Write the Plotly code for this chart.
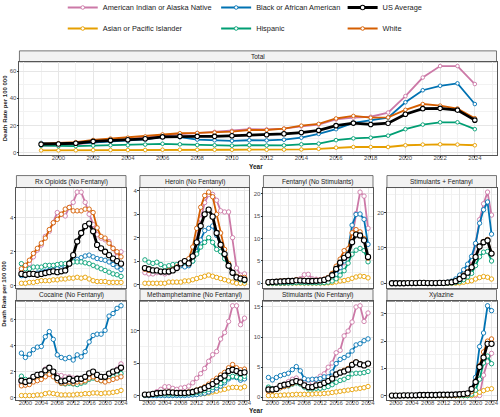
import plotly.graph_objects as go

# ── Data (age-adjusted death rate per 100 000) ───────────────────────────────
years = list(range(1999, 2025))

total_aian = [5.0, 5.2, 6.0, 7.5, 8.5, 9.8, 11.0, 12.5, 13.6, 14.3, 15.2, 16.0, 17.3, 17.0, 17.6, 19.3, 20.6, 24.4, 25.7, 26.4, 29.5, 41.7, 55.4, 63.9, 63.9, 50.6]
total_api = [1.5, 1.5, 1.6, 1.7, 1.8, 1.8, 1.8, 2.0, 2.0, 2.0, 2.0, 2.0, 2.1, 2.0, 2.1, 2.2, 2.7, 3.5, 4.0, 4.0, 4.0, 5.3, 5.8, 6.0, 5.8, 5.3]
total_black = [7.0, 6.5, 6.6, 7.4, 8.1, 8.6, 9.6, 11.5, 11.3, 9.5, 9.0, 8.6, 9.0, 8.9, 9.4, 10.9, 13.7, 17.2, 21.8, 23.6, 25.7, 37.1, 46.0, 49.3, 51.1, 35.8]
total_hisp = [5.0, 4.6, 4.7, 5.0, 5.3, 5.3, 5.8, 6.4, 6.0, 5.5, 5.3, 5.0, 5.4, 5.1, 5.2, 6.0, 6.5, 9.1, 10.4, 10.9, 12.4, 17.2, 20.6, 22.3, 22.3, 17.2]
total_white = [6.5, 6.8, 7.6, 9.2, 10.2, 10.9, 11.8, 13.3, 14.2, 14.4, 14.7, 15.4, 16.6, 16.6, 17.6, 19.8, 21.1, 25.1, 27.0, 25.7, 25.9, 31.5, 35.8, 34.6, 32.5, 25.3]
total_us = [6.1, 6.2, 6.8, 8.2, 8.9, 9.4, 10.1, 11.5, 11.9, 11.9, 11.9, 12.3, 13.2, 13.1, 13.8, 14.7, 16.3, 19.8, 21.7, 20.7, 21.6, 28.3, 32.4, 32.6, 31.3, 23.9]

rx_aian = [0.9, 1.1, 1.3, 1.7, 2.1, 2.4, 2.9, 3.2, 3.7, 4.3, 4.2, 4.1, 4.6, 4.9, 5.5, 5.5, 4.9, 4.2, 3.6, 3.0, 2.8, 2.7, 2.6, 2.2, 1.7, 2.0]
rx_api = [0.15, 0.15, 0.2, 0.2, 0.25, 0.3, 0.3, 0.3, 0.35, 0.35, 0.4, 0.4, 0.45, 0.45, 0.5, 0.45, 0.5, 0.4, 0.3, 0.25, 0.25, 0.25, 0.2, 0.2, 0.2, 0.2]
rx_black = [0.6, 0.6, 0.65, 0.7, 0.75, 0.8, 0.85, 0.9, 0.95, 1.0, 1.0, 1.1, 1.3, 1.45, 1.55, 1.65, 1.75, 1.8, 1.7, 1.6, 1.55, 1.5, 1.4, 1.25, 1.1, 0.95]
rx_hisp = [1.3, 1.0, 1.0, 1.1, 1.1, 1.1, 1.2, 1.2, 1.2, 1.25, 1.3, 1.3, 1.35, 1.4, 1.4, 1.4, 1.35, 1.3, 1.2, 1.1, 1.0, 0.9, 0.8, 0.7, 0.65, 0.55]
rx_white = [1.0, 1.2, 1.5, 1.9, 2.2, 2.5, 2.8, 3.3, 3.7, 3.9, 4.2, 4.5, 4.6, 4.4, 4.4, 4.4, 4.5, 4.5, 4.3, 3.4, 2.9, 2.8, 2.5, 2.2, 2.0, 1.7]
rx_us = [0.7, 0.65, 0.7, 0.7, 0.65, 0.7, 0.75, 0.8, 0.85, 0.8, 0.85, 0.9, 1.3, 1.8, 2.6, 3.1, 3.5, 3.65, 3.2, 2.4, 2.2, 2.0, 1.8, 1.6, 1.45, 1.3]

her_aian = [0.5, 0.45, 0.45, 0.5, 0.5, 0.45, 0.5, 0.6, 0.7, 0.9, 1.0, 0.95, 1.2, 1.9, 2.8, 3.5, 3.85, 3.85, 3.6, 3.15, 3.1, 3.1, 2.0, 0.7, 0.4, 0.45]
her_api = [0.05, 0.05, 0.05, 0.05, 0.05, 0.05, 0.1, 0.1, 0.1, 0.1, 0.15, 0.15, 0.2, 0.25, 0.3, 0.35, 0.4, 0.35, 0.3, 0.25, 0.2, 0.15, 0.1, 0.05, 0.05, 0.05]
her_black = [0.7, 0.65, 0.6, 0.6, 0.55, 0.55, 0.55, 0.6, 0.7, 0.8, 0.75, 0.8, 1.0, 1.4, 1.9, 2.3, 2.4, 2.5, 2.1, 1.7, 1.3, 0.8, 0.5, 0.3, 0.25, 0.2]
her_hisp = [1.05, 0.95, 0.9, 0.95, 0.85, 0.75, 0.8, 0.85, 0.85, 0.9, 0.95, 0.9, 1.0, 1.3, 1.6, 1.8, 2.0, 1.8, 1.5, 1.4, 1.1, 0.8, 0.5, 0.3, 0.2, 0.15]
her_white = [0.65, 0.6, 0.6, 0.6, 0.55, 0.55, 0.6, 0.65, 0.75, 0.9, 1.0, 1.1, 1.6, 2.4, 3.3, 3.8, 3.95, 3.75, 3.0, 2.2, 1.5, 0.9, 0.5, 0.35, 0.3, 0.3]
her_us = [0.7, 0.65, 0.6, 0.6, 0.55, 0.55, 0.55, 0.6, 0.7, 0.9, 1.0, 0.9, 1.2, 1.8, 2.5, 3.0, 3.2, 2.9, 2.2, 1.7, 1.3, 0.8, 0.5, 0.3, 0.25, 0.2]

fen_aian = [0.1, 0.1, 0.1, 0.2, 0.3, 0.4, 0.5, 0.8, 1.0, 1.9, 2.0, 1.0, 0.9, 0.8, 0.9, 1.0, 1.2, 2.0, 3.5, 4.6, 6.1, 10.3, 15.6, 20.4, 19.5, 12.3]
fen_api = [0.0, 0.0, 0.0, 0.0, 0.0, 0.05, 0.05, 0.05, 0.05, 0.05, 0.05, 0.05, 0.05, 0.05, 0.05, 0.1, 0.15, 0.3, 0.5, 0.6, 0.8, 1.1, 1.4, 1.6, 1.5, 1.2]
fen_black = [0.1, 0.1, 0.1, 0.1, 0.1, 0.1, 0.15, 0.3, 0.3, 0.2, 0.2, 0.2, 0.2, 0.2, 0.3, 0.5, 1.0, 2.0, 3.5, 5.0, 7.5, 13.0, 15.4, 15.5, 14.3, 8.7]
fen_hisp = [0.05, 0.05, 0.05, 0.05, 0.1, 0.1, 0.1, 0.15, 0.15, 0.1, 0.1, 0.1, 0.1, 0.1, 0.15, 0.25, 0.5, 1.0, 1.8, 2.8, 4.5, 6.5, 7.4, 7.8, 7.3, 4.8]
fen_white = [0.3, 0.35, 0.4, 0.5, 0.55, 0.6, 0.6, 0.8, 0.7, 0.65, 0.6, 0.6, 0.65, 0.7, 0.9, 1.3, 2.2, 3.8, 5.4, 7.3, 7.7, 11.3, 12.0, 11.5, 10.0, 5.6]
fen_us = [0.25, 0.3, 0.35, 0.4, 0.45, 0.5, 0.5, 0.65, 0.6, 0.55, 0.5, 0.5, 0.55, 0.6, 0.75, 1.1, 1.8, 3.2, 4.6, 5.7, 6.3, 9.2, 10.9, 10.7, 9.6, 5.9]

sf_aian = [0.0, 0.0, 0.0, 0.0, 0.0, 0.0, 0.0, 0.05, 0.05, 0.05, 0.05, 0.05, 0.05, 0.1, 0.2, 0.4, 0.8, 1.7, 2.9, 4.3, 6.5, 11.0, 18.0, 22.5, 25.8, 19.3]
sf_api = [0.0, 0.0, 0.0, 0.0, 0.0, 0.0, 0.0, 0.0, 0.0, 0.0, 0.0, 0.0, 0.0, 0.0, 0.0, 0.05, 0.05, 0.1, 0.3, 0.5, 0.7, 1.2, 1.6, 1.9, 1.7, 1.2]
sf_black = [0.0, 0.0, 0.0, 0.0, 0.0, 0.05, 0.05, 0.1, 0.1, 0.05, 0.05, 0.05, 0.1, 0.15, 0.3, 0.6, 1.2, 2.3, 3.8, 5.4, 7.6, 11.3, 17.0, 20.8, 23.0, 13.9]
sf_hisp = [0.0, 0.0, 0.0, 0.0, 0.0, 0.0, 0.0, 0.05, 0.05, 0.0, 0.0, 0.0, 0.0, 0.05, 0.05, 0.1, 0.3, 0.5, 1.0, 1.8, 2.8, 5.0, 7.5, 8.8, 9.0, 6.3]
sf_white = [0.0, 0.0, 0.0, 0.0, 0.05, 0.05, 0.05, 0.1, 0.1, 0.05, 0.05, 0.05, 0.1, 0.1, 0.2, 0.3, 0.6, 1.3, 2.3, 3.3, 4.8, 7.6, 10.3, 11.8, 12.4, 8.5]
sf_us = [0.0, 0.0, 0.0, 0.0, 0.05, 0.05, 0.05, 0.1, 0.1, 0.05, 0.05, 0.05, 0.1, 0.1, 0.2, 0.3, 0.6, 1.2, 2.0, 3.0, 4.5, 7.4, 10.4, 11.6, 12.1, 8.4]

coc_aian = [1.0, 1.0, 1.1, 1.3, 1.5, 1.7, 2.2, 1.8, 1.8, 1.7, 1.7, 1.6, 1.6, 1.5, 1.5, 1.4, 1.5, 1.7, 1.8, 1.6, 1.5, 1.5, 1.7, 1.9, 2.2, 2.6]
coc_api = [0.15, 0.15, 0.15, 0.15, 0.2, 0.2, 0.3, 0.35, 0.3, 0.25, 0.2, 0.2, 0.2, 0.2, 0.25, 0.25, 0.3, 0.3, 0.35, 0.35, 0.3, 0.35, 0.35, 0.4, 0.45, 0.55]
coc_black = [3.43, 3.1, 3.35, 3.7, 3.9, 3.95, 4.7, 5.1, 4.5, 3.3, 3.1, 3.0, 3.1, 2.9, 3.3, 3.15, 3.55, 4.3, 4.8, 4.9, 4.9, 5.2, 6.3, 6.5, 6.9, 7.1]
coc_hisp = [1.65, 1.4, 1.3, 1.4, 1.5, 1.5, 1.8, 1.9, 1.7, 1.35, 1.1, 1.05, 1.1, 1.05, 1.0, 1.1, 1.2, 1.4, 1.5, 1.4, 1.3, 1.3, 1.5, 1.6, 1.75, 1.85]
coc_white = [0.9, 0.95, 1.0, 1.2, 1.3, 1.4, 1.6, 1.8, 1.6, 1.3, 1.1, 1.1, 1.2, 1.1, 1.2, 1.2, 1.3, 1.5, 1.6, 1.4, 1.3, 1.2, 1.3, 1.4, 1.5, 1.6]
coc_us = [1.3, 1.2, 1.3, 1.6, 1.75, 1.8, 2.1, 2.3, 2.0, 1.5, 1.25, 1.3, 1.45, 1.3, 1.45, 1.45, 1.6, 1.87, 2.0, 1.75, 1.6, 1.6, 1.85, 2.0, 2.1, 2.3]

meth_aian = [0.1, 0.2, 0.3, 0.65, 1.0, 1.4, 1.4, 1.15, 1.0, 1.2, 1.3, 1.5, 2.0, 2.7, 3.4, 4.2, 5.3, 6.3, 6.8, 8.7, 9.7, 11.4, 13.8, 13.8, 10.9, 11.9]
meth_api = [0.15, 0.15, 0.15, 0.15, 0.15, 0.15, 0.15, 0.15, 0.15, 0.15, 0.2, 0.2, 0.2, 0.25, 0.3, 0.35, 0.45, 0.6, 0.7, 0.9, 1.0, 1.2, 1.3, 1.3, 1.2, 1.4]
meth_black = [0.05, 0.05, 0.05, 0.05, 0.05, 0.05, 0.05, 0.05, 0.05, 0.05, 0.05, 0.1, 0.15, 0.2, 0.3, 0.4, 0.6, 0.9, 1.2, 1.5, 2.0, 2.6, 2.9, 2.8, 2.4, 2.6]
meth_hisp = [0.1, 0.15, 0.2, 0.25, 0.3, 0.3, 0.3, 0.3, 0.3, 0.3, 0.3, 0.35, 0.4, 0.5, 0.6, 0.8, 1.0, 1.3, 1.6, 1.9, 2.3, 2.8, 3.0, 2.9, 2.7, 3.0]
meth_white = [0.15, 0.2, 0.3, 0.35, 0.45, 0.55, 0.6, 0.55, 0.5, 0.5, 0.5, 0.6, 0.7, 0.9, 1.1, 1.4, 1.8, 2.3, 2.7, 3.2, 3.6, 4.3, 4.8, 4.3, 4.0, 4.1]
meth_us = [0.2, 0.2, 0.3, 0.4, 0.45, 0.5, 0.55, 0.5, 0.45, 0.45, 0.45, 0.5, 0.6, 0.8, 0.95, 1.2, 1.5, 1.8, 2.2, 2.7, 3.1, 3.8, 4.0, 3.8, 3.5, 3.6]

stim_aian = [1.5, 1.4, 1.5, 1.8, 2.1, 2.6, 3.0, 3.2, 2.7, 2.4, 2.3, 2.5, 3.0, 3.5, 3.9, 5.0, 5.7, 7.4, 7.8, 10.2, 11.0, 12.5, 15.0, 15.2, 12.6, 14.0]
stim_api = [0.3, 0.3, 0.3, 0.35, 0.4, 0.4, 0.45, 0.5, 0.5, 0.5, 0.5, 0.55, 0.6, 0.6, 0.65, 0.7, 0.8, 0.9, 1.0, 1.1, 1.2, 1.3, 1.4, 1.5, 1.6, 1.8]
stim_black = [3.3, 2.9, 3.3, 3.6, 3.8, 4.0, 4.6, 5.1, 4.4, 3.1, 2.9, 3.0, 3.0, 3.1, 3.4, 3.4, 4.2, 5.6, 6.3, 6.6, 7.0, 7.7, 8.7, 8.9, 9.4, 9.7]
stim_hisp = [1.7, 1.4, 1.4, 1.6, 1.8, 1.9, 2.2, 2.4, 2.2, 1.7, 1.4, 1.4, 1.5, 1.5, 1.6, 1.8, 2.1, 2.5, 2.8, 3.0, 3.3, 3.9, 4.0, 4.0, 4.1, 4.3]
stim_white = [1.0, 1.1, 1.3, 1.6, 1.8, 2.0, 2.3, 2.6, 2.4, 1.9, 1.6, 1.6, 1.9, 2.0, 2.3, 2.7, 3.1, 3.8, 4.2, 4.5, 4.8, 5.5, 5.9, 5.6, 5.3, 5.5]
stim_us = [1.3, 1.3, 1.4, 1.9, 2.1, 2.2, 2.5, 2.7, 2.5, 2.0, 1.7, 1.7, 2.0, 2.1, 2.4, 2.7, 3.1, 3.8, 4.1, 4.3, 4.6, 5.4, 5.8, 5.5, 5.3, 5.6]

xyl_aian = [0.0, 0.0, 0.0, 0.0, 0.0, 0.0, 0.0, 0.0, 0.0, 0.0, 0.0, 0.0, 0.0, 0.0, 0.0, 0.0, 0.0, 0.0, 0.0, 0.0, 0.0, 0.0, 0.0, 0.75, 1.25, 1.55]
xyl_api = [0.0, 0.0, 0.0, 0.0, 0.0, 0.0, 0.0, 0.0, 0.0, 0.0, 0.0, 0.0, 0.0, 0.0, 0.0, 0.0, 0.0, 0.0, 0.0, 0.0, 0.0, 0.05, 0.12, 0.18, 0.23, 0.25]
xyl_black = [0.0, 0.0, 0.0, 0.0, 0.0, 0.0, 0.0, 0.0, 0.0, 0.0, 0.0, 0.0, 0.0, 0.0, 0.0, 0.0, 0.0, 0.02, 0.04, 0.07, 0.2, 0.67, 1.8, 2.3, 3.3, 3.12]
xyl_hisp = [0.0, 0.0, 0.0, 0.0, 0.0, 0.0, 0.0, 0.0, 0.0, 0.0, 0.0, 0.0, 0.0, 0.0, 0.0, 0.0, 0.0, 0.0, 0.0, 0.0, 0.05, 0.2, 0.6, 1.2, 1.45, 1.17]
xyl_white = [0.0, 0.0, 0.0, 0.0, 0.0, 0.0, 0.0, 0.0, 0.0, 0.0, 0.0, 0.0, 0.0, 0.0, 0.0, 0.0, 0.0, 0.02, 0.03, 0.05, 0.15, 0.5, 1.1, 1.6, 2.0, 2.08]
xyl_us = [0.0, 0.0, 0.0, 0.01, 0.01, 0.01, 0.01, 0.02, 0.02, 0.02, 0.02, 0.02, 0.03, 0.03, 0.03, 0.03, 0.04, 0.05, 0.06, 0.08, 0.24, 0.5, 1.05, 1.4, 1.9, 1.9]

groups = ["American Indian or Alaska Native", "Asian or Pacific Islander",
          "Black or African American", "Hispanic", "White", "US Average"]
colors = ["#CC79A7", "#E69F00", "#0072B2", "#009E73", "#D55E00", "#000000"]
legend_of = ["legend", "legend", "legend2", "legend2", "legend3", "legend3"]
legend_rank = [1, 2, 1, 2, 2, 1]

panels = [
    ("Total", [total_aian, total_api, total_black, total_hisp, total_white, total_us], 20),
    ("Rx Opioids (No Fentanyl)", [rx_aian, rx_api, rx_black, rx_hisp, rx_white, rx_us], 2),
    ("Heroin (No Fentanyl)", [her_aian, her_api, her_black, her_hisp, her_white, her_us], 1),
    ("Fentanyl (No Stimulants)", [fen_aian, fen_api, fen_black, fen_hisp, fen_white, fen_us], 5),
    ("Stimulants + Fentanyl", [sf_aian, sf_api, sf_black, sf_hisp, sf_white, sf_us], 10),
    ("Cocaine (No Fentanyl)", [coc_aian, coc_api, coc_black, coc_hisp, coc_white, coc_us], 2),
    ("Methamphetamine (No Fentanyl)", [meth_aian, meth_api, meth_black, meth_hisp, meth_white, meth_us], 5),
    ("Stimulants (No Fentanyl)", [stim_aian, stim_api, stim_black, stim_hisp, stim_white, stim_us], 5),
    ("Xylazine", [xyl_aian, xyl_api, xyl_black, xyl_hisp, xyl_white, xyl_us], 1),
]

# ── Geometry (pixels in the 500 x 417 page) ───────────────────────────────────
# Plotly keeps a legend inside the figure, so the figure is made OFF px taller
# and the page is scrolled up by the same amount: the legend rows then sit
# as high as in the reference.
OFF = 7
W, H = 500, 417 + OFF
FONT = "Liberation Sans, Arial, sans-serif"
cols_px = [(16.5, 126.5), (140.5, 250.5), (264.5, 374.5), (388.5, 498.5)]
rows_px = [(188, 288.5), (302, 401)]          # plot areas, strips sit above
STRIP = 12


def px_x(a, b):
    return [a / W, b / W]


def py(y):
    return 1 - (y + OFF) / H


boxes = [((19.5, 498.5), (62, 155))]
for r in range(2):
    for c in range(4):
        boxes.append((cols_px[c], rows_px[r]))

fig = go.Figure()
shapes, annotations = [], []

for i, (title, series, dtick) in enumerate(panels, start=1):
    sfx = "" if i == 1 else str(i)
    (x0, x1), (y0, y1) = boxes[i - 1]

    for g, (name, vals) in enumerate(zip(groups, series)):
        is_us = name == "US Average"
        fig.add_trace(go.Scatter(
            x=years, y=vals, mode="lines+markers", name=name,
            xaxis="x" + sfx, yaxis="y" + sfx,
            line=dict(color=colors[g], width=2.8 if is_us else 1.8),
            marker=dict(symbol="circle", size=(4.5 if is_us else 3.6) if i == 1 else (5.2 if is_us else 4.4),
                        color="white", line=dict(color=colors[g], width=1.1 if is_us else 0.9)),
            legendgroup=name, legend=legend_of[g], legendrank=legend_rank[g],
            showlegend=(i == 1), hoverinfo="x+y+name",
        ))

    lo = min(min(v) for v in series)
    hi = max(max(v) for v in series)
    pad = (hi - lo) * 0.05
    bottom_row = i == 1 or i >= 6
    xticks = list(range(2000, 2025, 2)) if i == 1 else list(range(2000, 2025, 4))

    fig.update_layout(**{
        "xaxis" + sfx: dict(
            domain=px_x(x0, x1), anchor="y" + sfx, range=[1997.75, 2025.25],
            tickmode="array", tickvals=xticks, tickangle=0,
            showticklabels=bottom_row, ticks="outside" if bottom_row else "",
            ticklen=2, tickwidth=0.7, tickcolor="#333333", ticklabelstandoff=-5,
            tickfont=dict(size=6, color="#4D4D4D", family=FONT),
            showgrid=True, gridcolor="#E6E6E6", gridwidth=0.7,
            minor=dict(tick0=1999 if i == 1 else 1998, dtick=1 if i == 1 else 2,
                       showgrid=True, gridcolor="#F2F2F2", gridwidth=0.5),
            showline=True, mirror=True, linecolor="#555555", linewidth=0.8,
            zeroline=False, fixedrange=True,
        ),
        "yaxis" + sfx: dict(
            domain=[py(y1), py(y0)], anchor="x" + sfx, range=[lo - pad, hi + pad],
            tick0=0, dtick=dtick, tickmode="linear",
            ticks="outside", ticklen=2, tickwidth=0.7, tickcolor="#333333", ticklabelstandoff=-1,
            tickfont=dict(size=6, color="#4D4D4D", family=FONT),
            showgrid=True, gridcolor="#E6E6E6", gridwidth=0.7,
            minor=dict(tick0=dtick / 2, dtick=dtick / 2,
                       showgrid=True, gridcolor="#F2F2F2", gridwidth=0.5),
            showline=True, mirror=True, linecolor="#555555", linewidth=0.8,
            zeroline=False, fixedrange=True,
        ),
    })

    # facet strip
    s_top = y0 - (11 if i == 1 else STRIP)
    shapes.append(dict(type="rect", xref="paper", yref="paper",
                       x0=x0 / W, x1=x1 / W, y0=py(y0), y1=py(s_top),
                       fillcolor="#F2F2F2", line=dict(color="#555555", width=0.8), layer="below"))
    annotations.append(dict(text=title, xref="paper", yref="paper",
                            x=(x0 + x1) / 2 / W, y=py((s_top + y0) / 2),
                            showarrow=False, xanchor="center", yanchor="middle",
                            font=dict(size=6.5, color="#1A1A1A", family=FONT)))

# axis titles
for yc in (108, 294):
    annotations.append(dict(text="<b>Death Rate per 100 000</b>", xref="paper", yref="paper",
                            x=4.5 / W, y=py(yc), textangle=-90, showarrow=False,
                            xanchor="center", yanchor="middle",
                            font=dict(size=6, color="#1A1A1A", family=FONT)))
for yc in (167, 411):
    annotations.append(dict(text="<b>Year</b>", xref="paper", yref="paper",
                            x=257 / W, y=py(yc), showarrow=False,
                            xanchor="center", yanchor="middle",
                            font=dict(size=6.5, color="#1A1A1A", family=FONT)))

legend_style = dict(orientation="v", xanchor="left", yanchor="top", y=1.0,
                    bgcolor="rgba(0,0,0,0)", borderwidth=0, tracegroupgap=2,
                    font=dict(size=7.4, color="#1A1A1A", family=FONT), itemclick=False)

fig.update_layout(
    width=W, height=H,
    margin=dict(l=0, r=0, t=0, b=0),
    paper_bgcolor="white", plot_bgcolor="white",
    font=dict(family=FONT),
    shapes=shapes, annotations=annotations,
    legend=dict(legend_style, x=63 / W),
    legend2=dict(legend_style, x=217 / W),
    legend3=dict(legend_style, x=344 / W),
)

fig.write_html("out.html", config={"displayModeBar": False},
               post_script="document.body.style.margin='-%dpx 0 0 0';"
                           "document.documentElement.style.overflow='hidden';" % OFF)
